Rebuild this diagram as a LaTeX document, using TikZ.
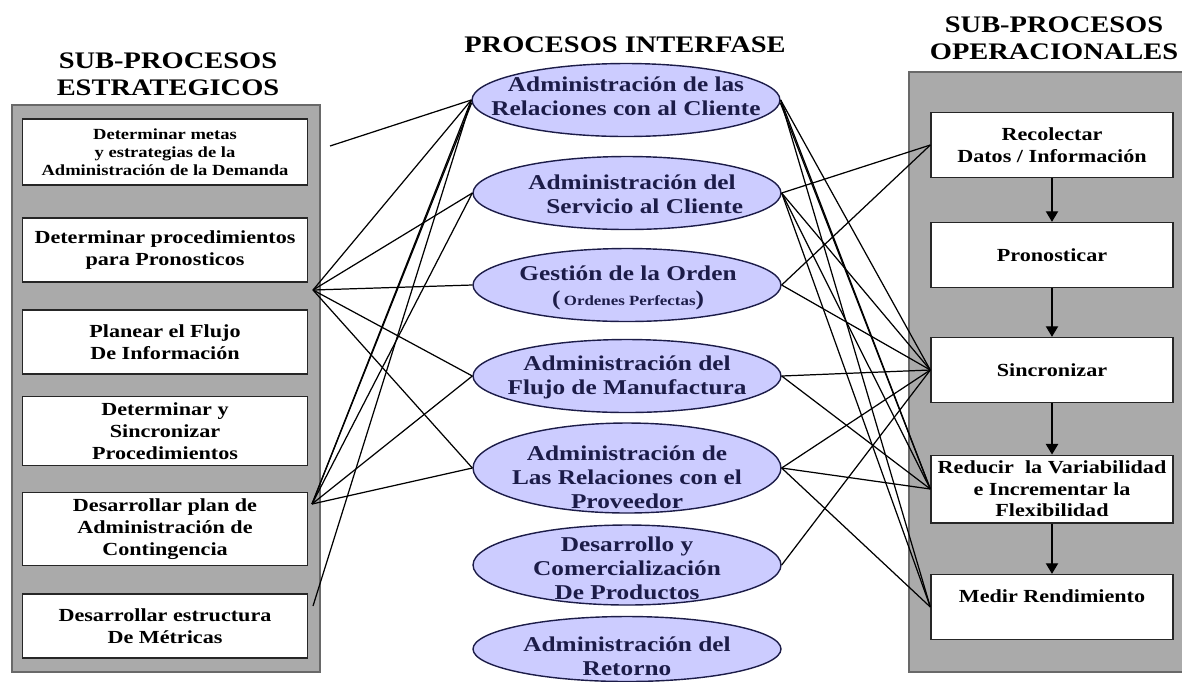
\documentclass[tikz,border=0pt]{standalone}
\usepackage{fontspec}
\setmainfont[FakeStretch=1.2]{Liberation Serif}
\usetikzlibrary{shapes.geometric,arrows.meta}

\definecolor{panelgray}{RGB}{170,170,170}
\definecolor{panelline}{RGB}{105,105,105}
\definecolor{lavender}{RGB}{204,204,255}
\definecolor{inknavy}{RGB}{28,28,72}

\tikzset{
  title/.style={font=\fontsize{13.5}{15.6}\selectfont\bfseries, align=center, inner sep=0pt},
  panel/.style={fill=panelgray, draw=panelline, line width=1.6pt},
  stratbox/.style={rectangle, draw=black!85, line width=0.8pt, fill=white, minimum width=5.7cm, minimum height=1.28cm, align=center, font=\fontsize{10.5}{12.5}\selectfont\bfseries},
  procell/.style={ellipse, draw=inknavy, line width=0.8pt, fill=lavender, minimum width=6.16cm, minimum height=1.46cm},
  proctext/.style={align=center, text=inknavy, inner sep=0pt, font=\fontsize{12}{13.6}\selectfont\bfseries},
  opbox/.style={rectangle, draw=black!85, line width=0.8pt, fill=white, minimum width=4.84cm, minimum height=1.3cm, align=center, font=\fontsize{10.5}{12.6}\selectfont\bfseries},
  link/.style={line width=0.7pt},
  flow/.style={line width=0.7pt, -{Triangle[width=7pt,length=6pt]}}
}

\begin{document}
\begin{tikzpicture}[x=0.02cm, y=-0.02cm]
\useasboundingbox (0,0) rectangle (1182,681);
\clip (0,0) rectangle (1182,681);

% Titles
\node[title] (T1) at (168,74) {SUB-PROCESOS\\ESTRATEGICOS};
\node[title] (T2) at (625,45) {PROCESOS INTERFASE};
\node[title] (T3) at (1054,38) {SUB-PROCESOS\\OPERACIONALES};

% Gray panels
\draw[panel] (12,105) rectangle (320,672);
\draw[panel] (909,72) rectangle (1195,672);

% Strategic sub-processes
\node[stratbox, minimum height=1.32cm, font=\fontsize{8.8}{10.4}\selectfont\bfseries] (B1) at (165,152) {Determinar metas\\y estrategias de la\\Administración de la Demanda};
\node[stratbox] (B2) at (165,250) {Determinar procedimientos\\para Pronosticos};
\node[stratbox] (B3) at (165,342) {Planear el Flujo\\De Información};
\node[stratbox] (B4) at (165,431) {Determinar y\\Sincronizar\\Procedimientos};
\node[stratbox] (B5) at (165,529) {Desarrollar plan de\\Administración de\\Contingencia};
\node[stratbox] (B6) at (165,626) {Desarrollar estructura\\De Métricas};

% Interface processes
\node[procell] (E1) at (626,100) {};
\node[procell] (E2) at (627,193) {};
\node[procell] (E3) at (627,285) {};
\node[procell] (E4) at (627,376) {};
\node[procell, minimum height=1.8cm] (E5) at (627,468) {};
\node[procell, minimum height=1.6cm] (E6) at (627,565) {};
\node[procell, minimum height=1.3cm] (E7) at (627,649) {};

\node[proctext] (E1t) at (626,96) {Administración de las\\Relaciones con al Cliente};
\node[proctext] (E2t) at (632,194) {Administración del\\\hspace{1.2em}Servicio al Cliente};
\node[proctext] (E3t) at (628,288) {Gestión de la Orden\\[1pt](\,{\fontsize{8}{9}\selectfont Ordenes Perfectas})};
\node[proctext] (E4t) at (627,377) {Administración del\\Flujo de Manufactura};
\node[proctext] (E5t) at (627,477) {Administración de\\Las Relaciones con el\\Proveedor};
\node[proctext] (E6t) at (627,568) {Desarrollo y\\Comercialización\\De Productos};
\node[proctext] (E7t) at (627,656) {Administración del\\Retorno};

% Operational sub-processes
\node[opbox] (R1) at (1052,145) {Recolectar\\Datos / Información};
\node[opbox] (R2) at (1052,255) {Pronosticar};
\node[opbox] (R3) at (1052,370) {Sincronizar};
\node[opbox, font=\fontsize{10.5}{12.2}\selectfont\bfseries] (R4) at (1052,489) {Reducir\ \ la Variabilidad\\e Incrementar la\\Flexibilidad};
\node[opbox] (R5) at (1052,607) {Medir Rendimiento\\\mbox{}};

\foreach \a/\b in {R1/R2,R2/R3,R3/R4,R4/R5}
  \draw[flow] (\a.south) -- (\b.north);

% Loose ends on the left side
\coordinate (b1end) at (330,146);
\coordinate (b2out) at (313,290);
\coordinate (b5out) at (312,504);
\coordinate (b6out) at (313,606);

% Left links
\draw[link] (E1.west) -- (b1end);
\draw[link] (E1.west) -- (b2out);
\draw[link] (E1.west) -- (b5out);
\draw[link] (E1.181) -- (b5out);
\draw[link] (E1.west) -- (b6out);
\draw[link] (E2.west) -- (b2out);
\draw[link] (E2.west) -- (b5out);
\draw[link] (E3.west) -- (b2out);
\draw[link] (E4.west) -- (b2out);
\draw[link] (E4.west) -- (b5out);
\draw[link] (E5.west) -- (b2out);
\draw[link] (E5.west) -- (b5out);

% Right links
\draw[link] (E1.east) -- (R3.west);
\draw[link] (E1.east) -- (R4.west);
\draw[link] (E1.359) -- (R4.west);
\draw[link] (E1.east) -- (R5.west);
\draw[link] (E2.east) -- (R1.west);
\draw[link] (E2.east) -- (R3.west);
\draw[link] (E2.east) -- (R4.west);
\draw[link] (E2.east) -- (R5.west);
\draw[link] (E3.east) -- (R1.west);
\draw[link] (E3.east) -- (R3.west);
\draw[link] (E4.east) -- (R3.west);
\draw[link] (E4.east) -- (R4.west);
\draw[link] (E5.east) -- (R3.west);
\draw[link] (E5.east) -- (R4.west);
\draw[link] (E5.east) -- (R5.west);
\draw[link] (E6.east) -- (R3.west);

\end{tikzpicture}
\end{document}
